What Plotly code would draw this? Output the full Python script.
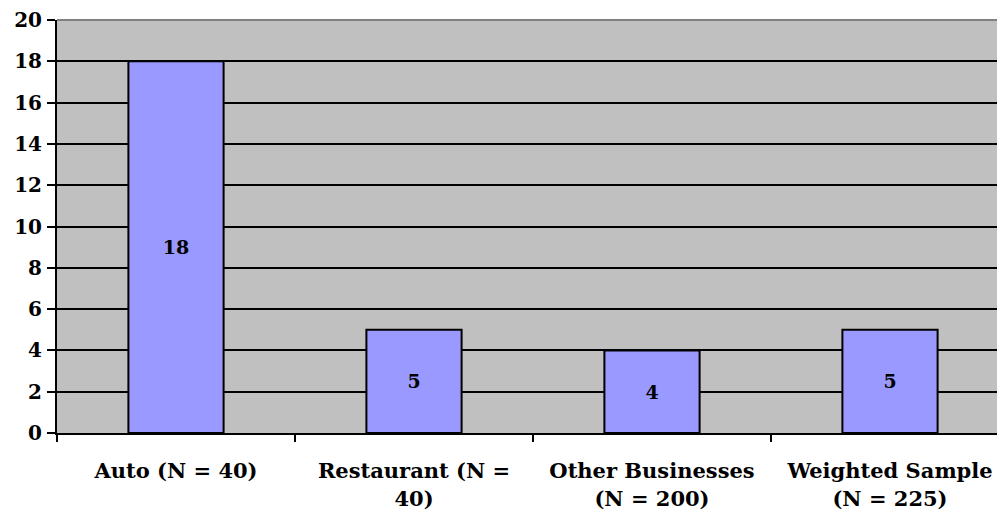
import plotly.graph_objects as go

categories = ["Auto (N = 40)", "Restaurant (N =<br>40)", "Other Businesses<br>(N = 200)", "Weighted Sample<br>(N = 225)"]
values = [18, 5, 4, 5]
y_ticks = list(range(0, 21, 2))

FONT = "DejaVu Serif"

fig = go.Figure()
fig.add_trace(
    go.Bar(
        x=categories,
        y=values,
        width=0.4,
        marker=dict(color="#9999FF", line=dict(color="black", width=2)),
        text=[str(v) for v in values],
        textposition="inside",
        insidetextanchor="middle",
        textangle=0,
        textfont=dict(family=FONT, size=19, color="black"),
        hoverinfo="x+y",
    )
)

# page body has an 8px margin; the plot area runs a little past the window edge
fig.update_layout(
    width=1001,
    height=509,
    margin=dict(l=49, r=0, t=12, b=84),
    paper_bgcolor="white",
    plot_bgcolor="#C0C0C0",
    showlegend=False,
    font=dict(family=FONT, size=19, color="black", weight="bold"),
    xaxis=dict(
        type="category",
        tickson="boundaries",
        ticks="outside",
        ticklen=7,
        tickwidth=2,
        tickcolor="black",
        showline=True,
        linecolor="black",
        linewidth=2,
        showgrid=False,
        ticklabelstandoff=18,
        tickfont=dict(family=FONT, size=21, weight="bold"),
    ),
    yaxis=dict(
        range=[0, 20],
        tickvals=y_ticks,
        ticks="outside",
        ticklen=8,
        tickwidth=2,
        tickcolor="black",
        showline=True,
        linecolor="black",
        linewidth=2,
        showgrid=True,
        gridcolor="black",
        gridwidth=2,
        zeroline=False,
        ticklabelstandoff=1,
        tickfont=dict(family=FONT, size=20, weight="bold"),
    ),
)

# grey border along the top of the plot area
fig.add_shape(type="line", xref="paper", yref="paper", x0=0, x1=1, y0=1, y1=1,
              line=dict(color="#808080", width=2))

fig.write_html("out.html")
